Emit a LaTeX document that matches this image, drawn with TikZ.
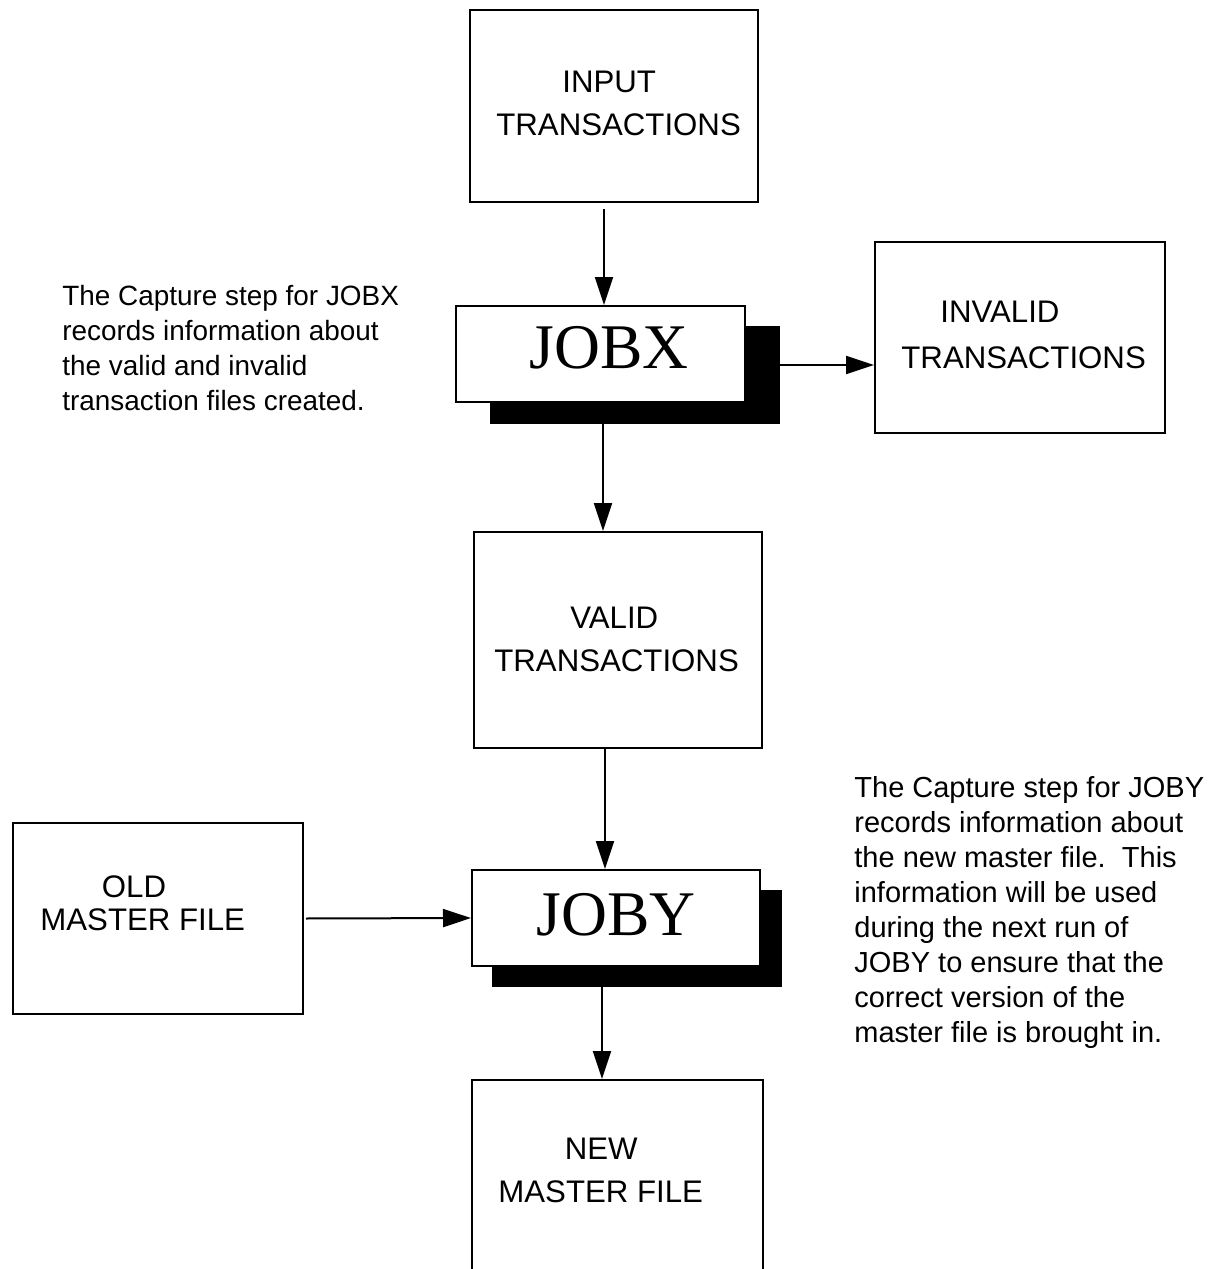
\documentclass[tikz,border=0pt]{standalone}
\usepackage{fontspec}
\setmainfont{Liberation Sans}
\newfontfamily\jobfont{Liberation Serif}
\usetikzlibrary{arrows.meta}

% two-line label: indent of the first line, line distance, the two lines
\newcommand\twolines[4]{\vtop{\baselineskip=#2\hbox{\hspace*{#1}#3}\hbox{#4}}}

\begin{document}
\begin{tikzpicture}[x=0.5pt,y=-0.5pt,
  box/.style n args={2}{draw, line width=1pt, fill=white, inner sep=0pt,
    minimum width=#1*0.5pt, minimum height=#2*0.5pt},
  shade/.style n args={2}{fill=black, inner sep=0pt, outer sep=0pt,
    minimum width=#1*0.5pt, minimum height=#2*0.5pt},
  boxtext/.style={anchor=base west, inner sep=0pt, font=\fontsize{15.6pt}{21.5pt}\selectfont},
  jobtext/.style={anchor=base west, inner sep=0pt, font=\jobfont\fontsize{31.8pt}{36pt}\selectfont},
  note/.style={anchor=base west, inner sep=0pt},
  arr/.style={line width=1pt, -{Triangle[width=9pt,length=14pt]}}]

\useasboundingbox (0,0) rectangle (1208,1269);
\clip (0,0) rectangle (1208,1269);

% data sets
\node[box={288}{192}] (input)   at (614,106)   {};
\node[box={290}{191}] (invalid) at (1020,337.5) {};
\node[box={288}{216}] (valid)   at (618,640)   {};
\node[box={290}{191}] (old)     at (158,918.5) {};
\node[box={291}{216}] (new)     at (617.5,1188) {};

% job steps with their drop shadows
\node[shade={290}{98}] (jobxsh) at (635,375)   {};
\node[box={289}{96}]   (jobx)   at (600.5,354) {};
\node[shade={290}{97}] (jobysh) at (637,938.5) {};
\node[box={288}{96}]   (joby)   at (616,918)   {};

% labels
\node[boxtext] (inputlbl)   at (496,92)  {\twolines{33pt}{21.5pt}{INPUT}{TRANSACTIONS}};
\node[boxtext] (invalidlbl) at (901,322) {\twolines{19.5pt}{23pt}{INVALID}{TRANSACTIONS}};
\node[boxtext] (validlbl)   at (494,628) {\twolines{38pt}{21.5pt}{VALID}{TRANSACTIONS}};
\node[boxtext] (oldlbl)     at (40,897)  {\twolines{30.75pt}{16.5pt}{OLD}{MASTER FILE}};
\node[boxtext] (newlbl)     at (498,1159) {\twolines{33.25pt}{21.5pt}{NEW}{MASTER FILE}};
\node[jobtext] (jobxlbl) at (529,368) {JOBX};
\node[jobtext] (jobylbl) at (536,935) {JOBY};

% notes
\node[note, font=\fontsize{13.95pt}{17.5pt}\selectfont] (notex) at (62,305) {\vtop{\baselineskip=17.5pt
  \hbox{The Capture step for JOBX}
  \hbox{records information about}
  \hbox{the valid and invalid}
  \hbox{transaction files created.}}};
\node[note, font=\fontsize{14.5pt}{17.5pt}\selectfont] (notey) at (854,797) {\vtop{\baselineskip=17.5pt
  \hbox{The Capture step for JOBY}
  \hbox{records information about}
  \hbox{the new master file.\ \ This}
  \hbox{information will be used}
  \hbox{during the next run of}
  \hbox{JOBY to ensure that the}
  \hbox{correct version of the}
  \hbox{master file is brought in.}}};

% connector lines
\coordinate (c1) at (604,0);
\coordinate (c3) at (603,0);
\coordinate (c4) at (605,0);
\coordinate (c6) at (602,0);
\coordinate (r2) at (0,365);

\draw[arr, shorten <=3pt] (input.south -| c1) -- (jobx.north -| c1);
\draw[arr] (jobxsh.east |- r2) -- (invalid.west |- r2);
\draw[arr] (jobxsh.south -| c3) -- (valid.north -| c3);
\draw[arr] (valid.south -| c4) -- (joby.north -| c4);
\draw[arr, shorten <=1pt] (old.east) -- (joby.west);
\draw[arr] (jobysh.south -| c6) -- (new.north -| c6);
\end{tikzpicture}
\end{document}
